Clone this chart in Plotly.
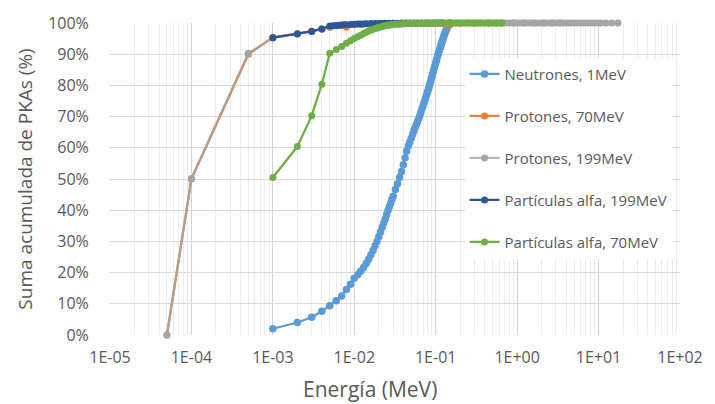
import plotly.graph_objects as go

# ---------------- data ----------------
neut_E = [0.001, 0.002, 0.003, 0.004, 0.005, 0.006, 0.007, 0.008, 0.009,
          0.010, 0.011, 0.012, 0.013, 0.014, 0.015, 0.016, 0.017, 0.018, 0.019,
          0.020, 0.021, 0.022, 0.023, 0.024, 0.025, 0.026, 0.027, 0.028, 0.029,
          0.030, 0.032, 0.034, 0.036, 0.038, 0.040, 0.042, 0.044, 0.046, 0.048,
          0.050, 0.052, 0.054, 0.056, 0.058, 0.060, 0.062, 0.064, 0.066, 0.068,
          0.070, 0.072, 0.074, 0.076, 0.078, 0.080, 0.082, 0.084, 0.086, 0.088,
          0.090, 0.092, 0.094, 0.096, 0.098, 0.100, 0.102, 0.104, 0.106, 0.108,
          0.110, 0.112, 0.114, 0.116, 0.118, 0.120, 0.122, 0.124, 0.126, 0.128,
          0.130, 0.132, 0.134, 0.136, 0.138, 0.140, 0.142, 0.144, 0.146, 0.148,
          0.150]
neut_P = [2.0, 4.0, 5.7, 7.6, 9.4, 11.0, 12.5, 14.6, 16.3,
          18.2, 19.3, 20.4, 21.6, 22.9, 24.3, 25.7, 27.1, 28.6, 30.0,
          31.5, 33.0, 34.5, 35.9, 37.2, 38.6, 40.0, 41.2, 42.3, 43.4,
          44.5, 46.6, 48.5, 50.5, 52.4, 54.6, 56.8, 58.9, 60.6, 61.8,
          63.1, 64.3, 65.4, 66.5, 67.5, 68.5, 69.5, 70.4, 71.5, 72.6,
          73.5, 74.5, 75.5, 76.4, 77.3, 78.2, 79.1, 80.0, 81.0, 82.0,
          82.9, 83.8, 84.7, 85.6, 86.4, 87.2, 88.0, 88.8, 89.6, 90.3,
          91.0, 91.6, 92.2, 92.9, 93.5, 94.1, 94.7, 95.2, 95.8, 96.3,
          96.8, 97.3, 97.7, 98.1, 98.5, 98.9, 99.2, 99.5, 99.7, 99.9,
          100.0]

p70_E = [5e-5, 1e-4, 5e-4, 0.001, 0.002, 0.003, 0.004, 0.005, 0.008, 0.012,
         0.02, 0.04, 0.08, 0.13, 0.15, 0.2, 0.3, 0.45, 0.65, 0.9,
         1.2, 1.6, 2.1, 2.7, 3.4]
p70_P = [0.0, 50.0, 90.0, 95.4, 96.6, 97.4, 98.1, 98.6, 98.6, 99.5,
         99.7, 99.85, 99.9, 99.6, 99.4, 99.9, 99.95, 100.0, 100.0, 100.0,
         100.0, 100.0, 100.0, 100.0, 100.0]

p199_E = [5e-5, 1e-4, 5e-4, 0.001, 0.002, 0.003, 0.004, 0.005, 0.007, 0.010,
          0.015, 0.020, 0.030, 0.050, 0.080, 0.12, 0.18, 0.25, 0.35, 0.45,
          0.55, 0.65, 0.72, 0.80, 0.88, 0.97, 1.07, 1.18, 1.30, 1.43,
          1.57, 1.73, 1.90, 2.10, 2.30, 2.55, 2.80, 3.10, 3.40, 3.75,
          4.10, 4.50, 5.00, 5.50, 6.00, 6.60, 7.30, 8.00, 8.80, 9.70,
          10.6, 12.3, 14.5, 17.3]
p199_P = [0.0, 50.2, 90.3, 95.2, 96.5, 97.3, 98.0, 98.8, 99.2, 99.5,
          99.7, 99.8, 99.88, 99.93, 99.96, 99.98, 99.99, 100.0, 100.0, 100.0,
          100.0, 100.0, 100.0, 100.0, 100.0, 100.0, 100.0, 100.0, 100.0, 100.0,
          100.0, 100.0, 100.0, 100.0, 100.0, 100.0, 100.0, 100.0, 100.0, 100.0,
          100.0, 100.0, 100.0, 100.0, 100.0, 100.0, 100.0, 100.0, 100.0, 100.0,
          100.0, 100.0, 100.0, 100.0]

a199_E = [0.001, 0.002, 0.003, 0.004, 0.005, 0.0055, 0.006, 0.0065, 0.007, 0.0075,
          0.008, 0.009, 0.010, 0.011, 0.012, 0.013, 0.014, 0.016, 0.018, 0.020,
          0.022, 0.024, 0.027, 0.030, 0.034, 0.038, 0.043, 0.048, 0.054, 0.060,
          0.067, 0.075, 0.083, 0.092, 0.100, 0.110, 0.120]
a199_P = [95.3, 96.5, 97.3, 98.1, 99.0, 99.1, 99.2, 99.3, 99.35, 99.4,
          99.45, 99.55, 99.6, 99.64, 99.68, 99.71, 99.74, 99.8, 99.84, 99.87,
          99.89, 99.9, 99.92, 99.94, 99.95, 99.96, 99.97, 99.98, 99.99, 99.99,
          100.0, 100.0, 100.0, 100.0, 100.0, 100.0, 100.0]

a70_E = [0.001, 0.002, 0.003, 0.004, 0.005, 0.006, 0.007, 0.008, 0.009, 0.010,
         0.011, 0.012, 0.013, 0.014, 0.015, 0.016, 0.017, 0.018, 0.019, 0.020,
         0.021, 0.022, 0.023, 0.024, 0.025, 0.026, 0.027, 0.028, 0.029, 0.030,
         0.032, 0.034, 0.036, 0.038, 0.040, 0.043, 0.046, 0.049, 0.052, 0.056,
         0.060, 0.064, 0.068, 0.073, 0.078, 0.084, 0.090, 0.096, 0.103, 0.110,
         0.118, 0.126, 0.135, 0.145, 0.155, 0.165, 0.177, 0.190, 0.203, 0.217,
         0.232, 0.248, 0.265, 0.283, 0.302, 0.322, 0.344, 0.367, 0.392, 0.418,
         0.446, 0.476, 0.508, 0.542, 0.578, 0.616, 0.650]
a70_P = [50.5, 60.4, 70.3, 80.4, 90.3, 91.5, 92.5, 93.5, 94.3, 95.0,
         95.6, 96.1, 96.6, 97.0, 97.4, 97.7, 98.0, 98.2, 98.4, 98.6,
         98.75, 98.9, 99.0, 99.1, 99.2, 99.27, 99.33, 99.4, 99.45, 99.5,
         99.57, 99.62, 99.66, 99.7, 99.74, 99.78, 99.8, 99.83, 99.85, 99.87,
         99.88, 99.9, 99.91, 99.92, 99.93, 99.94, 99.95, 99.95, 99.96, 99.96,
         99.97, 99.97, 99.98, 99.98, 99.98, 99.99, 99.99, 99.99, 99.99, 100.0,
         100.0, 100.0, 100.0, 100.0, 100.0, 100.0, 100.0, 100.0, 100.0, 100.0,
         100.0, 100.0, 100.0, 100.0, 100.0, 100.0, 100.0]

series_names = ["Neutrones, 1MeV", "Protones, 70MeV", "Protones, 199MeV",
                "Partículas alfa, 199MeV", "Partículas alfa, 70MeV"]

x_tickvals = [1e-5, 1e-4, 1e-3, 1e-2, 1e-1, 1e0, 1e1, 1e2]
x_ticktext = ["1E-05", "1E-04", "1E-03", "1E-02", "1E-01", "1E+00", "1E+01", "1E+02"]
y_tickvals = [0, 10, 20, 30, 40, 50, 60, 70, 80, 90, 100]
y_ticktext = ["0%", "10%", "20%", "30%", "40%", "50%", "60%", "70%", "80%", "90%", "100%"]

# ---------------- figure ----------------
FONT = "Open Sans"
TXT = "#595959"

series = [
    (neut_E, neut_P, "#5B9BD5", "#5B9BD5", 7.5),
    (p70_E, p70_P, "#ED7D31", "#ED7D31", 7),
    (p199_E, p199_P, "rgba(165,165,165,0.82)", "#A5A5A5", 7),
    (a199_E, a199_P, "#2F5597", "#2F5597", 7),
    (a70_E, a70_P, "#70AD47", "#70AD47", 7),
]

fig = go.Figure()
for i, (xs, ys, lc, mc, ms) in enumerate(series):
    fig.add_trace(go.Scatter(
        x=xs, y=ys, name=series_names[i], mode="lines+markers",
        line=dict(color=lc, width=2.25),
        marker=dict(color=mc, size=ms),
        legendgroup=f"g{i}", cliponaxis=False,
    ))

fig.update_layout(
    width=715, height=404,
    margin=dict(l=110, r=25, t=15, b=69),
    paper_bgcolor="white", plot_bgcolor="white",
    font=dict(family=FONT, color=TXT),
    showlegend=True,
    legend=dict(
        x=0.622, y=0.889, xanchor="left", yanchor="top",
        bgcolor="white", borderwidth=0,
        font=dict(family=FONT, size=15, color=TXT),
        tracegroupgap=19.5,
    ),
    annotations=[dict(
        text="Energía (MeV)", x=0.457, y=-0.172, xref="paper", yref="paper",
        xanchor="center", yanchor="middle", showarrow=False,
        font=dict(family=FONT, size=21, color=TXT),
    )],
)

fig.update_xaxes(
    type="log", range=[-5, 2],
    tickvals=x_tickvals, ticktext=x_ticktext,
    tickfont=dict(family=FONT, size=16, color=TXT),
    showgrid=True, gridcolor="#D4D4D4", gridwidth=1,
    minor=dict(showgrid=True, gridcolor="#EDEDED", dtick="D1", ticks=""),
    ticks="outside", ticklen=8, tickcolor="rgba(0,0,0,0)",
    showline=False, zeroline=False,
)
fig.update_yaxes(
    range=[0, 100], tickvals=y_tickvals, ticktext=y_ticktext,
    tickfont=dict(family=FONT, size=16, color=TXT),
    showgrid=True, gridcolor="#D9D9D9", gridwidth=1,
    ticks="outside", ticklen=17, tickcolor="rgba(0,0,0,0)",
    showline=False, zeroline=False,
    title=dict(text="Suma acumulada de PKAs (%)",
               font=dict(family=FONT, size=19, color=TXT), standoff=10),
)

fig.write_html("out.html")
